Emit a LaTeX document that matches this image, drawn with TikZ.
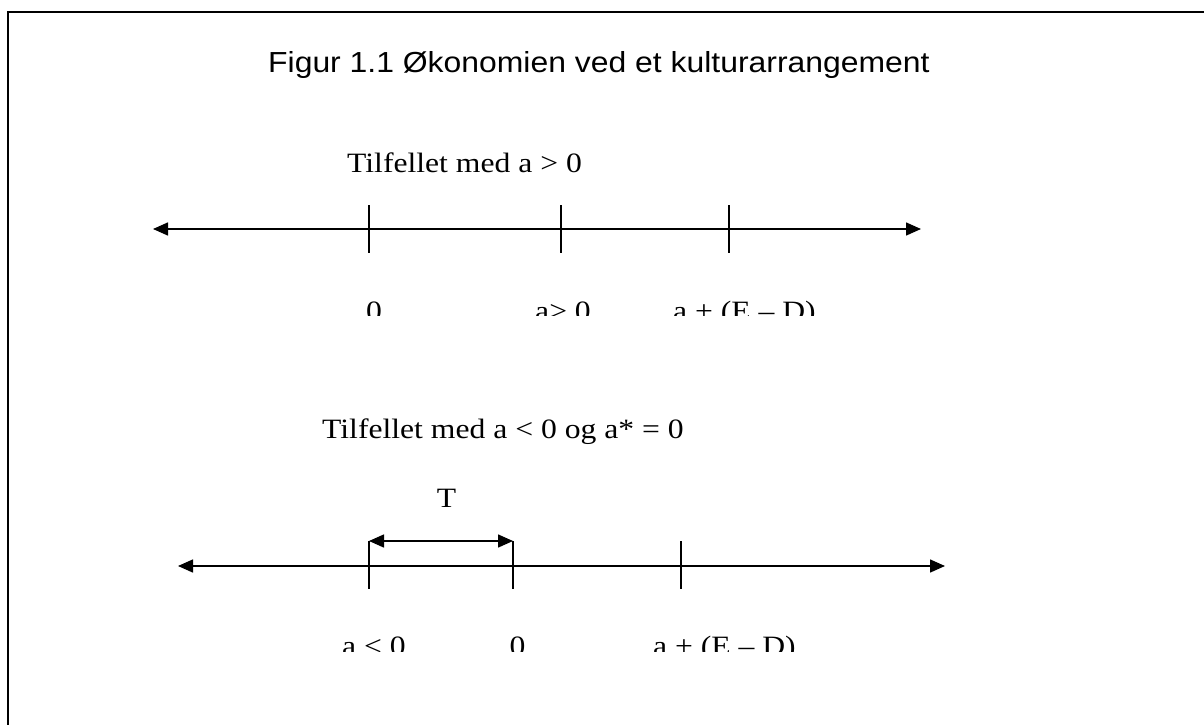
\documentclass[tikz,border=0pt]{standalone}
\usepackage{fontspec}
\setmainfont[FakeStretch=1.13]{Liberation Serif}
\newfontfamily\titlefont[FakeStretch=1.10]{Liberation Sans}
\usetikzlibrary{arrows.meta}
\begin{document}
\begin{tikzpicture}[x=1pt,y=-1pt,
  axisline/.style={line width=1.5pt,{Triangle[length=15pt,width=13pt]}-{Triangle[length=15pt,width=13pt]}},
  tickline/.style={line width=1.5pt},
  lbl/.style={inner sep=0pt,anchor=base west,font=\fontsize{28}{30}\selectfont},
  framel/.style={line width=2.2pt}]
\useasboundingbox (0,0) rectangle (1204,725);
% frame
\coordinate (fc) at (8,12);
\coordinate (fr) at (1210,12);
\coordinate (fb) at (8,730);
\draw[framel] (fr) -- (fc) -- (fb);
% title
\node[lbl,font=\titlefont\fontsize{29}{31}\selectfont] (title) at (268,73) {Figur 1.1 Økonomien ved et kulturarrangement};
% case 1
\node[lbl] (h1) at (347,172) {Tilfellet med a > 0};
\coordinate (L1) at (153,229);
\coordinate (R1) at (921,229);
\draw[axisline] (L1) -- (R1);
\foreach \n/\x in {t1a/369,t1b/561,t1c/729}{
  \coordinate (\n-top) at (\x,205);
  \coordinate (\n-bot) at (\x,253);
  \draw[tickline] (\n-top) -- (\n-bot);
}
\begin{scope}
\clip (0,0) rectangle (1204,315);
\node[lbl,anchor=base] (l1a) at (374,320) {0};
\node[lbl] (l1b) at (535,320) {a> 0};
\node[lbl] (l1c) at (673,320) {a + (E – D)};
\end{scope}
% case 2
\node[lbl] (h2) at (322,438) {Tilfellet med a < 0 og a* = 0};
\coordinate (L2) at (178,566);
\coordinate (R2) at (945,566);
\draw[axisline] (L2) -- (R2);
\coordinate (t2a-top) at (369,541);
\coordinate (t2b-top) at (513,541);
\coordinate (t2c-top) at (681,541);
\coordinate (t2a-bot) at (369,589);
\coordinate (t2b-bot) at (513,589);
\coordinate (t2c-bot) at (681,589);
\draw[tickline] (t2a-top) -- (t2a-bot);
\draw[tickline] (t2b-top) -- (t2b-bot);
\draw[tickline] (t2c-top) -- (t2c-bot);
\draw[axisline] (t2a-top) -- (t2b-top);
\node[lbl,anchor=base] (T) at (446.5,507) {T};
\begin{scope}
\clip (0,0) rectangle (1204,651);
\node[lbl] (l2a) at (342,655) {a < 0};
\node[lbl,anchor=base] (l2b) at (517.5,655) {0};
\node[lbl] (l2c) at (653,655) {a + (E – D)};
\end{scope}
\end{tikzpicture}
\end{document}
